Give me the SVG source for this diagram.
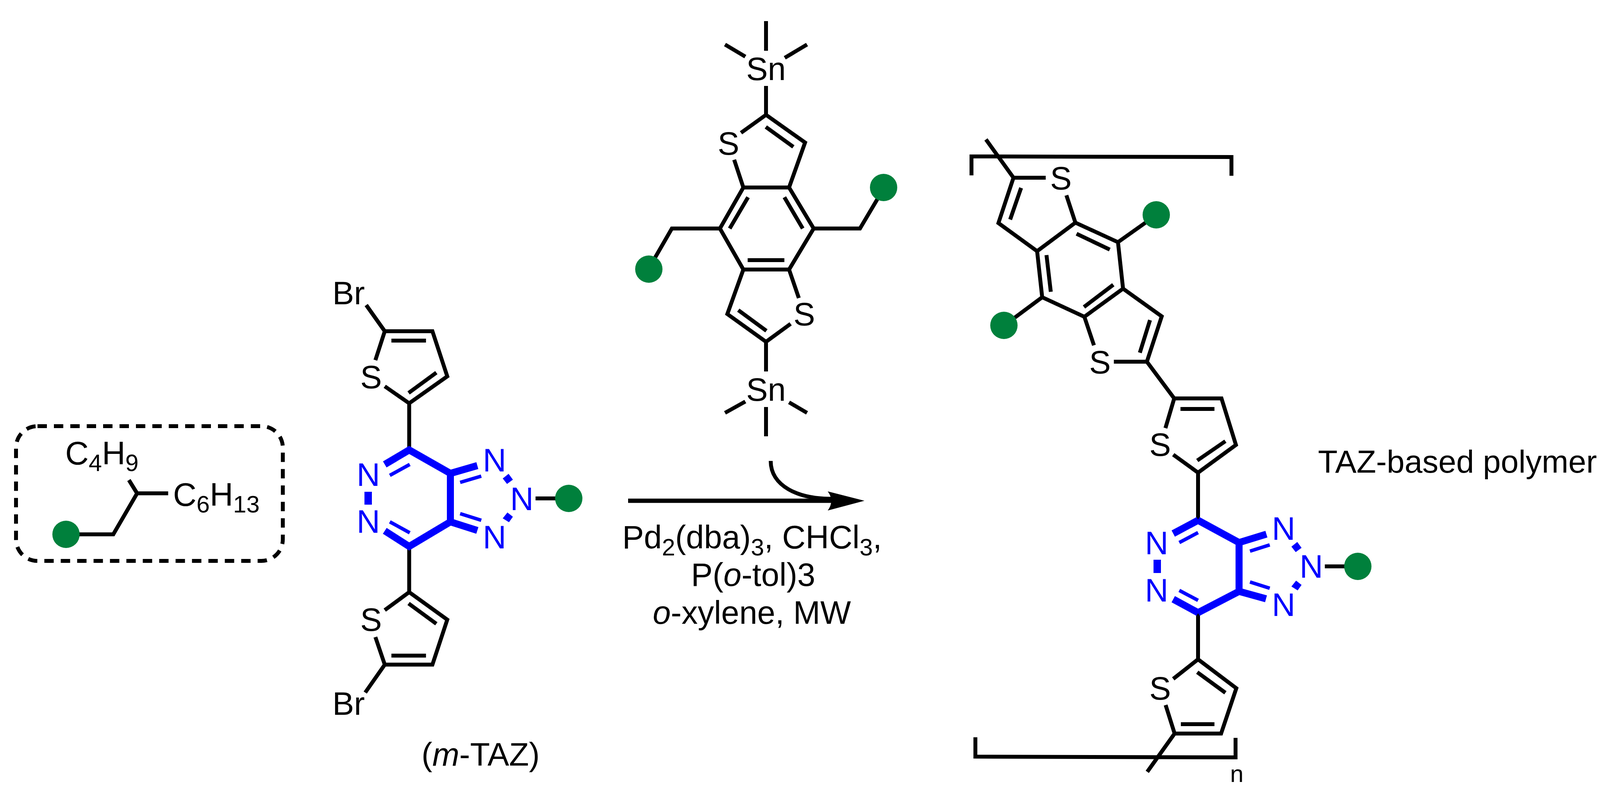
<svg xmlns="http://www.w3.org/2000/svg" width="4124" height="2043" viewBox="0 0 4124 2043">
<style>
text{font-family:"Liberation Sans",Arial,sans-serif;font-size:83px;fill:#000}
.sub{font-size:61px}
.i{font-style:italic}
.bl{fill:#0000ff}
.b{fill:none;stroke:#000;stroke-width:10;stroke-linejoin:miter}
.t{fill:none;stroke:#0000ff;stroke-width:18;stroke-linejoin:miter}
.w{fill:none;stroke:#0000ff;stroke-width:9}
.d{fill:#0000ff;stroke:none}
.g{fill:#00803c}
.m{text-anchor:middle}
</style>
<rect width="4124" height="2043" fill="#fff"/>
<g id="connectors">
<path d="M1608 1282H2136" fill="none" stroke="#000" stroke-width="11"/>
<path d="M2213 1282L2119 1258Q2137 1282 2119 1307Z" fill="#000"/>
<path d="M1973 1180C1973 1244 2042 1277 2128 1277" fill="none" stroke="#000" stroke-width="10"/>
</g>
<g id="side-chain-legend">
<rect x="41" y="1091" width="683" height="345" rx="55" fill="none" stroke="#000" stroke-width="10" stroke-dasharray="24 18"/>
<path class="b" d="M169 1368H290L351 1263H430.5M351 1263L330 1229"/>
<circle class="g" cx="169" cy="1368" r="35"/>
<text x="167" y="1189">C<tspan class="sub" dy="17">4</tspan><tspan dy="-17">H</tspan><tspan class="sub" dy="17">9</tspan></text>
<text x="443" y="1295">C<tspan class="sub" dy="17">6</tspan><tspan dy="-17">H</tspan><tspan class="sub" dy="17">13</tspan></text>
</g>
<g id="m-TAZ">
<path class="b" d="M937.5 781L985 848H1107L1145 963.5L1047.5 1032.5L985 989M985 848L961 922M1002 872H1090.5M1117 954L1046 1006M1047.5 1032.5V1152"/>
<path class="b" d="M1047.5 1399V1516L1145 1586.5L1107 1701.6H985L961 1631M1047.5 1516L985 1562M1117 1597L1046 1545M1002 1678.6H1090.5M985 1701.6L935 1773"/>
<path class="t" d="M985 1189L1047.5 1152L1153 1212V1336L1047.5 1399L985 1359M1153 1212L1222 1192M1153 1336L1222 1358"/>
<path class="w" d="M1049 1189L998 1217M1049 1364L998 1336M1178 1235L1232 1219M1178 1315L1232 1332"/>
<rect class="d" x="933" y="1259" width="19" height="33"/>
<path class="d" d="M1302 1213L1313 1228L1298 1239L1287 1225ZM1299 1312L1313 1323L1303 1337L1287 1327Z"/>
<path class="b" d="M1371 1276H1425"/>
<circle class="g" cx="1456" cy="1276" r="35"/>
<text x="851" y="779">Br</text>
<text x="851" y="1830">Br</text>
<text class="m" x="950" y="994">S</text>
<text class="m" x="950" y="1615">S</text>
<text class="m bl" x="943" y="1244">N</text>
<text class="m bl" x="943" y="1364">N</text>
<text class="m bl" x="1266" y="1207">N</text>
<text class="m bl" x="1266" y="1404">N</text>
<text class="m bl" x="1336" y="1306">N</text>
<text x="1079" y="1960">(<tspan class="i">m</tspan>-TAZ)</text>
</g>
<g id="distannyl-monomer">
<path class="b" d="M1961 54V130M1856 114L1908 145M2066 114L2009 148M1961 220V294L2061 365L2020 480H1903L1879.5 409M1961 294L1897 340M1960.5 325L2031 376"/>
<path class="b" d="M2020 480L2083 585L2020 690H1903L1843 585L1903 480M2008 505L2055 585M1915 505L1868 585M1914 666H2008"/>
<path class="b" d="M2083 585H2201.5L2246 510M1843 585H1720L1675 663"/>
<path class="b" d="M2020 690L2045 763M1903 690L1862 804L1961 875L2024 829M1890 794L1962 847M1961 875V951M1908 1028L1856 1057M2020 1030L2066 1057M1961 1042V1117"/>
<circle class="g" cx="2262" cy="480" r="35"/>
<circle class="g" cx="1661" cy="689" r="35"/>
<text class="m" x="1961" y="205">Sn</text>
<text class="m" x="1961" y="1026">Sn</text>
<text class="m" x="1865" y="396">S</text>
<text class="m" x="2059" y="833">S</text>
</g>
<g id="reaction-conditions">
<text x="1593" y="1404">Pd<tspan class="sub" dy="18">2</tspan><tspan dy="-18">(dba)</tspan><tspan class="sub" dy="18">3</tspan><tspan dy="-18">, CHCl</tspan><tspan class="sub" dy="18">3</tspan><tspan dy="-18">,</tspan></text>
<text x="1769" y="1500">P(<tspan class="i">o</tspan>-tol)3</text>
<text x="1671" y="1597"><tspan class="i">o</tspan>-xylene, MW</text>
</g>
<g id="TAZ-polymer">
<path class="b" d="M2487 449V400.5L3152.5 402V450"/>
<path class="b" d="M2524 357L2594.5 455H2677M2730 500L2753 570M2594.5 455L2556 571L2655 643L2753 570M2614 481L2586 562"/>
<path class="b" d="M2753 570L2862 620L2875 739L2776 811L2668 761L2655 643M2756 598.5L2841 639M2679 653L2690 747M2850 729L2775 786"/>
<path class="b" d="M2862 620L2932.5 570M2668 761L2598 813"/>
<path class="b" d="M2875 739L2974 810L2936 926H2851.5M2776 811L2800.5 884M2944 819.5L2918 903"/>
<path class="b" d="M2936 926L3006 1020H3127L3164 1139L3067 1210L3003.5 1164M3006 1020L2983.5 1096M3022 1047H3109M3137 1129.5L3065 1179M3067 1210V1332"/>
<path class="b" d="M3067 1568V1688L3165 1762L3126 1878H3007L2984 1805M3067 1688L3003.5 1738M3065 1721L3137 1773.6M3023 1854H3109M3007 1878L2937 1976"/>
<path class="b" d="M2497 1887.5V1937L3163 1939V1889"/>
<path class="t" d="M3003.5 1366L3067 1332L3172 1389V1514L3067 1568.5L3003.5 1534M3172 1389L3242 1367.5M3172 1514L3241 1533"/>
<path class="w" d="M3067 1363.5L3019 1389M3067 1537L3019 1511.6M3200 1411L3250.5 1395M3200 1490L3250.5 1506"/>
<rect class="d" x="2953" y="1433" width="19" height="34"/>
<path class="d" d="M3321 1387.5L3332 1402.5L3317 1413.5L3306 1399.5ZM3318 1486.5L3332 1497.5L3322 1511.5L3306 1501.5Z"/>
<path d="M3062 1322H3072L3067 1330ZM3067 1570L3062 1578H3072Z" fill="#000"/>
<path class="b" d="M3391.6 1450H3442"/>
<circle class="g" cx="2960" cy="550" r="35"/>
<circle class="g" cx="2570" cy="833" r="35"/>
<circle class="g" cx="3476" cy="1450" r="35"/>
<text class="m" x="2716" y="485">S</text>
<text class="m" x="2816" y="956">S</text>
<text class="m" x="2970" y="1167">S</text>
<text class="m" x="2970" y="1791">S</text>
<text class="m bl" x="2961" y="1419">N</text>
<text class="m bl" x="2961" y="1540">N</text>
<text class="m bl" x="3286" y="1382">N</text>
<text class="m bl" x="3286" y="1577">N</text>
<text class="m bl" x="3357" y="1479">N</text>
<text x="3149" y="2002" style="font-size:62px">n</text>
<text x="3374" y="1210" style="font-size:82px">TAZ-based polymer</text>
</g>
</svg>
